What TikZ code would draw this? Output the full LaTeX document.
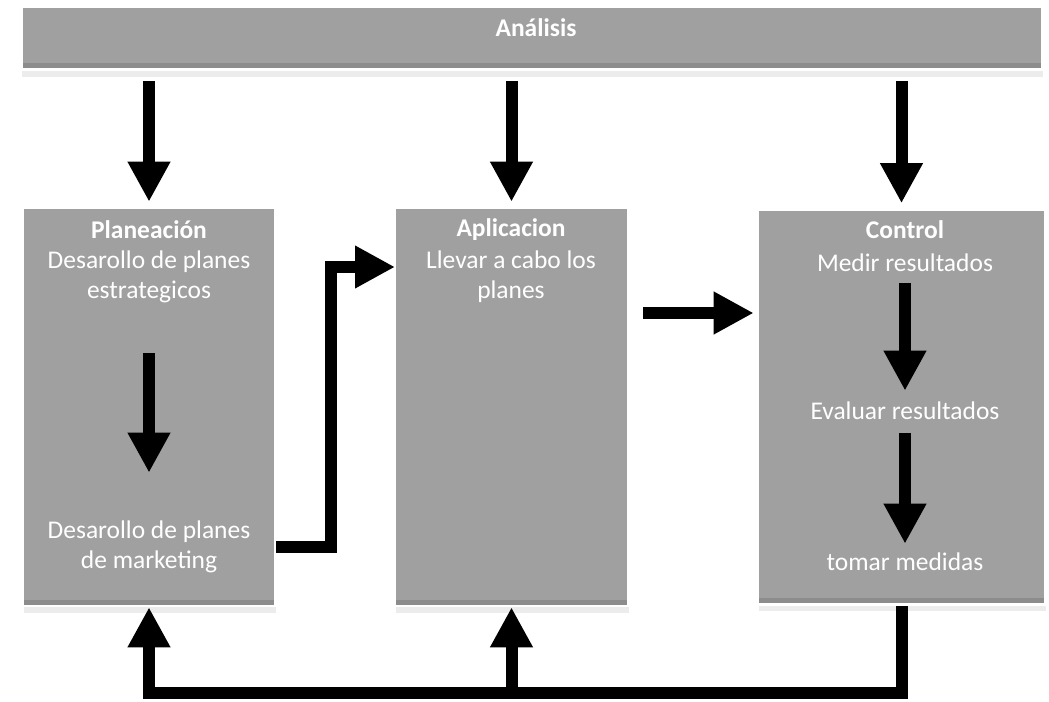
\documentclass[tikz,border=0pt]{standalone}
\usepackage{fontspec}
\setmainfont{Carlito}
\usetikzlibrary{arrows.meta,shadows}
\definecolor{boxgray}{RGB}{160,160,160}
\tikzset{
  panel/.style={rectangle, fill=boxgray, draw=white, line width=1.5pt,
    drop shadow={opacity=0.15, shadow xshift=0.5pt, shadow yshift=-4pt},
    path picture={\fill[black, opacity=0.12] ([yshift=3.5pt]path picture bounding box.south west)
      rectangle (path picture bounding box.south east);}},
  txt/.style={text=white, align=center, inner sep=0pt, font=\fontsize{14.5}{17}\selectfont},
  ttl/.style={txt, font=\bfseries\fontsize{14.5}{17}\selectfont},
  fat/.style={line width=0.24cm, -{Triangle[length=0.8cm,width=0.8cm]}},
}
\begin{document}
\begin{tikzpicture}[x=0.02cm,y=-0.02cm]
    \useasboundingbox (0,0) rectangle (1049,702);
    % insert nodes
    \node[panel, minimum width=20.42cm, minimum height=1.26cm] (bar) at (532,38) {};
    \node[ttl] (ana) at (536,28) {Análisis};

    \node[panel, minimum width=5.04cm, minimum height=7.96cm] (plan) at (149,407) {};
    \node[panel, minimum width=4.66cm, minimum height=7.96cm] (apli) at (511.5,407) {};
    \node[panel, minimum width=5.74cm, minimum height=7.9cm] (ctl) at (901.5,407) {};

    \node[ttl] (plantitle) at (149,230) {Planeación};
    \node[txt] (planest) at (149,277) {Desarollo de planes\\estrategicos};
    \node[txt] (planmkt) at (149,547) {Desarollo de planes\\de marketing};

    \node[ttl] (aplititle) at (511,230) {Aplicacion};
    \node[txt] (aplitext) at (511,277) {Llevar a cabo los\\planes};

    \node[ttl] (ctltitle) at (905,230) {Control};
    \node[txt] (ctlmed) at (905,263) {Medir resultados};
    \node[txt] (ctleva) at (905,411) {Evaluar resultados};
    \node[txt] (ctltom) at (905,562) {tomar medidas};

    \coordinate (apliin) at (395,267);
    \coordinate (mid) at (0,313);
    \coordinate (fb) at (0,693);

    % insert links
    \draw[fat, shorten <=0.2cm, shorten >=0.1cm] (bar.south -| plan.north) -- (plan.north);
    \draw[fat, shorten <=0.2cm, shorten >=0.1cm] (bar.south -| apli.north) -- (apli.north);
    \draw[fat, shorten <=0.2cm, shorten >=0.1cm] (bar.south -| ctl.north) -- (ctl.north);

    \draw[fat, shorten <=1cm, shorten >=0.96cm] (planest.south) -- (planmkt.north);
    \draw[fat] (plan.east |- planmkt) -- ++(55,0) |- (apliin);
    \draw[fat, shorten <=0.28cm, shorten >=0.06cm] (apli.east |- mid) -- (ctl.west |- mid);

    \draw[fat, shorten <=0.22cm, shorten >=0.22cm] (ctlmed.south) -- (ctleva.north);
    \draw[fat, shorten <=0.26cm, shorten >=0.18cm] (ctleva.south) -- (ctltom.north);

    \draw[fat] (ctl.south) -- (ctl.south |- fb) -| (plan.south);
    \draw[fat] (apli.south |- fb) -- (apli.south);
\end{tikzpicture}
\end{document}
